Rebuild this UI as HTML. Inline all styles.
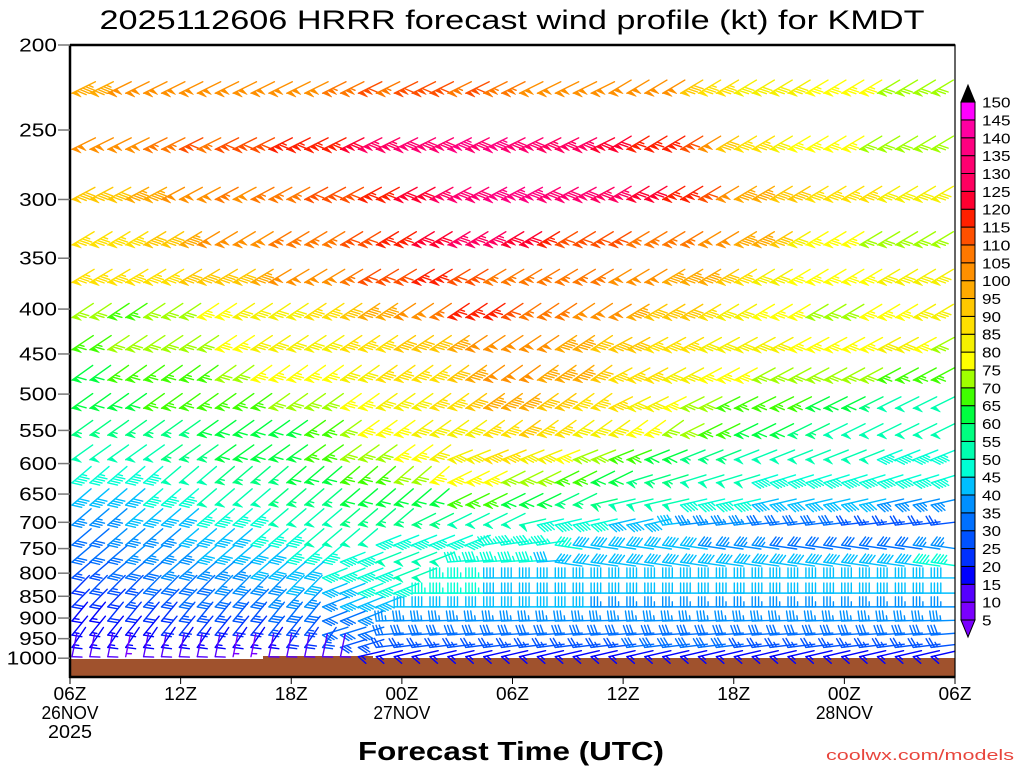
<!DOCTYPE html>
<html><head><meta charset="utf-8"><title>HRRR wind profile KMDT</title>
<style>
html,body{margin:0;padding:0;background:#fff;}
svg{display:block;font-family:"Liberation Sans",sans-serif;}
</style></head>
<body>
<svg id="chart" width="1024" height="768" viewBox="0 0 1024 768">
<text x="512" y="29" text-anchor="middle" font-size="27" textLength="825" lengthAdjust="spacingAndGlyphs">2025112606 HRRR forecast wind profile (kt) for KMDT</text>
<defs><clipPath id="plotclip"><rect x="70" y="45" width="885" height="632"/></clipPath></defs>
<g id="ground"></g>
<g id="barbs" clip-path="url(#plotclip)"></g>
<g id="axes"></g>
<g id="cbar"></g>
<text x="511" y="760" text-anchor="middle" font-size="26" font-weight="bold" textLength="306" lengthAdjust="spacingAndGlyphs">Forecast Time (UTC)</text>
<text x="1014" y="760" text-anchor="end" font-size="15" fill="#e8453c" textLength="188" lengthAdjust="spacingAndGlyphs">coolwx.com/models</text>
</svg>
<script>
const levels=[227,263,300,338,373,409,445,482,519,557,594,631,669,705,743,777,810,843,874,907,941,972,996];
const pressureTicks=[200,250,300,350,400,450,500,550,600,650,700,750,800,850,900,950,1000];
const timeTickHours=[0,6,12,18,24,30,36,42,48];
const timeTickLabels=["06Z","12Z","18Z","00Z","06Z","12Z","18Z","00Z","06Z"];
const dateLabels=[[0,"26NOV"],[18,"27NOV"],[42,"28NOV"]];
const binLabels=[5,10,15,20,25,30,35,40,45,50,55,60,65,70,75,80,85,90,95,100,105,110,115,120,125,130,135,140,145,150];
const binColors=["#7a00ff","#5500ff","#0000ff","#0030ff","#0052ff","#0070ff","#0090ff","#00bfff","#00ffd5","#00ffb0","#00ff80","#00ff40","#40ff00","#a0ff00","#ffff00","#f5f000","#ffe000","#ffc800","#ffaa00","#ff9000","#ff7800","#ff5000","#ff2000","#ff0030","#ff0060","#ff0070","#ff0080","#ff00a0","#ff00ff"];
const speeds=[
[95,95,100,100,100,100,100,100,100,100,100,100,100,100,105,105,110,105,110,110,110,105,110,105,105,100,100,100,100,100,100,100,100,100,90,85,85,80,80,80,80,75,75,75,75,70,70,70,70],
[100,100,100,100,105,105,110,105,110,110,110,115,115,115,115,120,125,125,130,130,130,135,130,135,130,130,125,125,125,120,120,115,115,115,110,100,90,85,85,80,75,75,75,75,70,70,70,70,70],
[90,90,90,95,95,100,100,100,105,100,105,105,105,110,110,110,115,115,120,120,125,130,130,135,135,135,130,130,130,125,125,120,120,115,115,110,100,95,95,90,90,85,85,85,85,80,80,80,80],
[85,85,85,85,90,90,95,100,100,100,100,105,105,105,105,110,110,115,115,120,120,125,125,125,120,120,115,110,110,110,110,105,105,105,105,100,100,95,95,90,80,75,75,75,70,70,70,70,70],
[85,85,85,85,85,85,90,90,90,90,95,100,100,100,100,105,110,110,110,115,115,110,110,105,105,105,105,105,105,105,100,100,100,95,95,95,90,85,80,80,75,75,75,75,75,80,80,80,80],
[70,70,65,65,70,70,70,75,75,80,80,80,80,85,85,90,95,95,100,100,105,115,115,115,110,105,105,105,100,100,100,95,90,90,90,85,80,80,75,75,75,70,70,70,75,75,75,80,80],
[65,65,70,70,70,70,70,70,75,75,80,80,80,80,80,85,85,85,90,90,90,95,100,100,100,100,100,95,95,90,90,90,85,85,85,80,80,80,80,80,75,75,75,75,75,80,80,75,70],
[60,60,65,65,65,65,65,65,70,70,75,75,75,75,75,80,80,85,85,85,85,90,95,100,100,100,95,95,95,90,85,85,85,80,80,75,75,75,70,70,70,70,70,70,70,65,65,65,65],
[60,60,60,60,65,65,65,65,65,65,65,70,70,70,70,75,75,80,80,80,85,85,90,95,95,95,90,90,85,85,85,80,80,75,70,70,65,65,65,65,65,60,60,60,55,50,50,50,50],
[55,55,55,55,55,55,55,60,60,60,60,60,60,65,65,70,75,75,75,80,80,80,80,85,85,90,85,85,80,80,80,75,75,70,70,65,65,60,60,60,55,55,50,50,50,50,50,50,50],
[50,50,50,50,50,55,55,55,60,60,60,60,60,65,65,70,70,70,75,75,80,80,80,85,85,80,80,75,70,70,65,65,60,60,55,55,55,50,50,50,50,50,50,50,50,45,45,45,45],
[45,45,45,45,45,50,50,50,55,55,55,55,60,60,60,65,65,65,70,70,75,75,75,75,70,70,70,65,65,60,60,55,55,55,50,50,50,50,45,45,45,45,45,45,45,45,45,45,45],
[40,40,40,40,45,45,45,50,50,50,50,55,55,55,55,60,60,60,60,60,60,65,65,65,60,60,60,55,55,55,50,50,50,50,45,45,45,45,40,40,40,40,40,40,40,35,35,35,35],
[35,35,35,40,40,40,40,45,45,45,45,50,50,50,50,55,55,55,55,55,55,50,50,50,50,50,45,45,45,45,40,40,40,40,35,35,35,35,30,30,30,30,30,25,25,25,25,25,25],
[30,30,35,35,35,35,40,40,40,40,45,45,45,50,50,50,50,45,45,45,45,45,45,45,45,45,45,45,40,40,40,40,40,40,40,35,35,35,35,30,30,30,30,30,30,30,30,35,35],
[30,30,30,35,35,35,35,40,40,40,40,40,45,45,45,45,45,50,50,50,50,45,45,45,45,45,40,40,40,40,40,40,40,40,40,40,40,40,40,40,40,40,40,40,40,40,40,45,45],
[25,25,30,30,30,35,35,35,35,35,40,40,40,40,45,45,45,45,50,50,45,45,45,40,40,40,40,40,40,40,40,40,40,40,40,40,40,40,40,40,40,40,40,40,40,40,40,40,40],
[20,25,25,25,30,30,30,30,35,35,35,35,40,40,40,40,45,45,45,45,45,45,45,40,40,40,40,40,40,40,40,40,40,40,40,40,40,40,40,40,40,40,40,40,40,40,40,40,40],
[20,20,20,25,25,25,30,30,30,30,30,35,35,35,35,40,40,40,40,40,40,40,40,40,40,40,40,40,40,35,35,35,35,35,35,35,35,35,35,35,35,35,35,35,35,35,35,35,35],
[15,15,20,20,20,20,25,25,25,25,25,30,30,30,30,30,35,35,35,35,35,35,35,35,35,35,35,35,35,35,35,35,35,35,35,35,35,35,35,35,35,35,35,35,35,35,35,35,35],
[15,15,15,15,15,20,20,20,20,20,20,25,25,25,30,30,30,30,30,30,30,30,30,30,30,30,30,30,30,30,30,30,30,30,30,30,30,30,30,30,30,30,30,30,30,30,30,30,30],
[15,15,15,15,15,15,15,15,15,15,15,15,20,20,25,25,25,25,25,25,25,25,25,25,25,25,25,25,25,25,25,30,30,30,30,30,30,25,25,25,25,25,25,25,25,25,25,25,25],
[10,10,10,5,10,10,10,10,10,5,5,10,10,10,10,10,15,15,15,15,15,15,15,15,15,15,15,15,15,15,15,15,15,15,15,15,15,15,15,15,15,15,15,15,15,15,15,15,15]
];
// wind direction (deg, direction wind blows FROM) as piecewise segments [startHour, dir]
const dirSegs=[
[[0,240],[30,235]],
[[0,240],[30,235]],
[[0,238],[30,235]],
[[0,235]],
[[0,235]],
[[0,232],[30,235]],
[[0,232],[30,238]],
[[0,230],[30,238]],
[[0,230],[30,240]],
[[0,230],[34,240]],
[[0,230],[21,245]],
[[0,225],[21,240],[31,250]],
[[0,225],[21,240],[29,255]],
[[0,225],[19,240],[25,255],[33,262]],
[[0,225],[17,245],[23,260],[27,280]],
[[0,225],[15,245],[21,265],[27,280]],
[[0,225],[14,245],[20,270]],
[[0,220],[14,245],[19,270]],
[[0,220],[14,245],[18,270]],
[[0,215],[14,245],[17,268]],
[[0,215],[14,250],[17,265]],
[[0,210],[15,250],[17,262]],
[[0,190],[16,255]]
];
const NS="http://www.w3.org/2000/svg";
const X0=70,X1=955,Y0=45,Y1=677;
function yOf(p){return Y0+381*Math.log(p/200);}
function xAxis(h){return X0+h*(X1-X0)/48;}
function tipX(t){return 72+t*17.9;}
function colorOf(s){let i=Math.floor((s-5)/5);if(i<0)i=0;if(i>28)i=28;return binColors[i];}
function dirAt(r,t){let d=dirSegs[r][0][1];for(const s of dirSegs[r]){if(t>=s[0])d=s[1];}return d;}
function mk(tag,attrs,parent){const e=document.createElementNS(NS,tag);for(const k in attrs)e.setAttribute(k,attrs[k]);parent.appendChild(e);return e;}

// ground
const gg=document.getElementById('ground');
let gr=mk('path',{d:`M70,659 L263,659 L263,656 L373,656 L373,658 L955,658 L955,677 L70,677 Z`,fill:'#a0522d'},gg);



// barbs (anchored at feathered tip)
const bg=document.getElementById('barbs');
function drawBarb(tx,ty,spd,dir,col,name){
  const L=27,k=0.85,a=0.45,FL=10;
  const r=dir*Math.PI/180;
  const sx=Math.sin(r)*L, sy=-Math.cos(r)*L*k;
  const len=Math.hypot(sx,sy);const ux=sx/len,uy=sy/len;
  const x=tx-sx,y=ty-sy;
  let px=-(sy/a), py=sx*a;
  if(px-py<0){px=-px;py=-py;}
  const pl=Math.hypot(px,py);px=px/pl*FL;py=py/pl*FL;
  const g=mk('g',{stroke:col,'stroke-width':1.4,fill:col,'stroke-linecap':'round'},bg);
  
  
  mk('line',{x1:x,y1:y,x2:tx,y2:ty},g);
  let s=Math.round(spd/5)*5;
  let n50=Math.floor(s/50);s-=n50*50;let n10=Math.floor(s/10);s-=n10*10;let n5=s>=5?1:0;
  let d=0;
  const bx=()=>tx-ux*d, by=()=>ty-uy*d;
  for(let i=0;i<n50;i++){
    const ax=bx(),ay=by();const cx=tx-ux*(d+4.5),cy=ty-uy*(d+4.5);
    mk('polygon',{points:`${ax},${ay} ${ax+px},${ay+py} ${cx},${cy}`,'stroke-width':0.6},g);
    d+=5.5;
  }
  for(let i=0;i<n10;i++){mk('line',{x1:bx(),y1:by(),x2:bx()+px,y2:by()+py},g);d+=3.2;}
  if(n5){if(d===0)d=3.2;mk('line',{x1:bx(),y1:by(),x2:bx()+px*0.5,y2:by()+py*0.5},g);}
}
for(let r=0;r<levels.length;r++){
  const y=yOf(levels[r]);
  for(let t=0;t<speeds[r].length;t++){
    const s=speeds[r][t];
    drawBarb(tipX(t),y,s,dirAt(r,t),colorOf(s),'wind-barb');
  }
}

// axes
const ax=document.getElementById('axes');
let fr=mk('rect',{x:X0,y:Y0,width:X1-X0,height:Y1-Y0,fill:'none',stroke:'#000','stroke-width':1.2},ax);


let la=mk('line',{x1:X0,y1:Y0,x2:X0,y2:Y1+1,stroke:'#000','stroke-width':2.5},ax);


let ta=mk('line',{x1:X0,y1:Y0,x2:X1,y2:Y0,stroke:'#000','stroke-width':2.5},ax);


let ba=mk('line',{x1:X0-1,y1:Y1,x2:X1,y2:Y1,stroke:'#000','stroke-width':2.5},ax);


for(const p of pressureTicks){
  const y=yOf(p);
  const tk=mk('line',{x1:58,y1:y,x2:X0,y2:y,stroke:'#777','stroke-width':1.5},ax);
  
  
  const tx=mk('text',{x:57,y:y+6.5,'text-anchor':'end','font-size':18,textLength:String(p).length*12.6,lengthAdjust:'spacingAndGlyphs'},ax);
  tx.textContent=p;
  
  
}
timeTickHours.forEach((h,i)=>{
  const x=xAxis(h);
  const tk=mk('line',{x1:x,y1:Y1,x2:x,y2:Y1+7,stroke:'#000','stroke-width':1},ax);
  
  
  const tx=mk('text',{x:x,y:700,'text-anchor':'middle','font-size':18,textLength:33,lengthAdjust:'spacingAndGlyphs'},ax);
  tx.textContent=timeTickLabels[i];
  
  
});
dateLabels.forEach(dl=>{
  const tx=mk('text',{x:xAxis(dl[0]),y:719,'text-anchor':'middle','font-size':18,textLength:57,lengthAdjust:'spacingAndGlyphs'},ax);
  tx.textContent=dl[1];
  
  
});
const yr=mk('text',{x:X0,y:738,'text-anchor':'middle','font-size':18,textLength:44,lengthAdjust:'spacingAndGlyphs'},ax);
yr.textContent="2025";



// colorbar
const cb=document.getElementById('cbar');
const CBX=961,CBW=14,CBB=620,CBH=17.86;
binColors.forEach((c,i)=>{
  const r=mk('rect',{x:CBX,y:CBB-CBH*(i+1),width:CBW,height:CBH,fill:c,stroke:'#000','stroke-width':1},cb);
  
  
});
const up=mk('polygon',{points:`${CBX},${CBB-CBH*29} ${CBX+CBW},${CBB-CBH*29} ${CBX+CBW/2},${CBB-CBH*29-17}`,fill:'#000',stroke:'#000'},cb);


const dn=mk('polygon',{points:`${CBX},${CBB} ${CBX+CBW},${CBB} ${CBX+CBW/2},${CBB+17}`,fill:binColors[0],stroke:'#000'},cb);


binLabels.forEach((v,i)=>{
  const t=mk('text',{x:982,y:CBB-CBH*i+5.5,'font-size':15,textLength:String(v).length*9.5,lengthAdjust:'spacingAndGlyphs'},cb);
  t.textContent=v;
  
  
});
</script>
</body></html>
